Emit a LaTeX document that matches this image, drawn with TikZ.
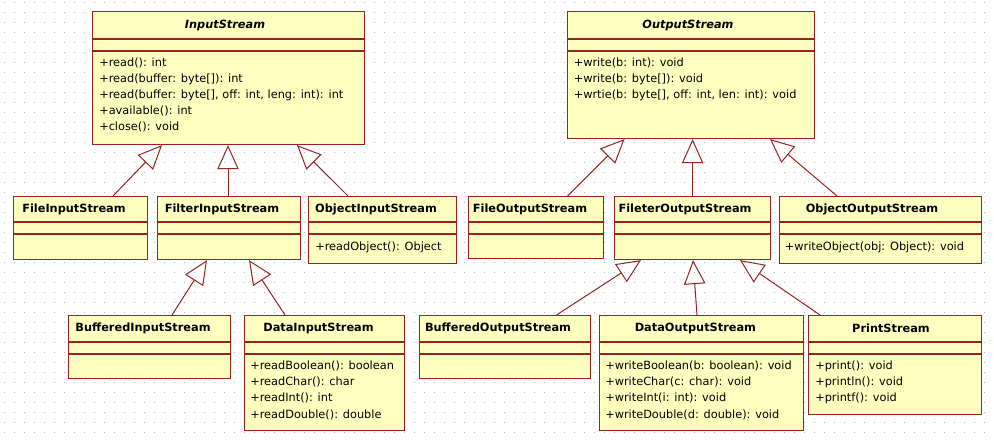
\documentclass[tikz,border=0pt]{standalone}
\usepackage{fontspec}
\setmainfont{DejaVu Sans}
\usetikzlibrary{arrows.meta,calc}
\definecolor{umlred}{HTML}{992222}
\definecolor{umlfill}{HTML}{FFFFC0}
\definecolor{dotgray}{HTML}{B4B4B4}
\tikzset{
  classbox/.style={draw=umlred, fill=umlfill, line width=0.85pt, inner sep=0pt, anchor=north west},
  sepline/.style={draw=umlred, line width=0.8pt},
  clsname/.style={font=\fontsize{8.5pt}{10pt}\selectfont\bfseries, inner sep=0pt, text=black},
  absname/.style={font=\fontsize{8.5pt}{10pt}\selectfont\bfseries\itshape, inner sep=0pt, text=black},
  methtext/.style={font=\fontsize{8.5pt}{10pt}\selectfont, inner sep=0pt, anchor=west, text height=6.5pt, text depth=2pt},
  inherit/.style={draw=umlred, line width=0.75pt, -{Triangle[open, length=18pt, width=16pt]}},
  dotrow/.style={draw=dotgray, line width=0.75pt, dash pattern=on 0.75pt off 6.75pt},
}
% #1 name, #2 x1, #3 y1, #4 x2, #5 y2, #6 first separator y, #7 title centre x, #8 title style, #9 title
\newcommand\umlcls[9]{%
  \node[classbox, minimum width={(#4-#2)*0.75pt}, minimum height={(#5-#3)*0.75pt}] (#1) at (#2,#3) {};
  \draw[sepline] (#2,#6) -- (#4,#6) (#2,{#6+12}) -- (#4,{#6+12});
  \node[#8] (#1-name) at (#7,{(#3+#6)/2}) {#9};
}
% #1 name, #2 x, #3 first line centre y, #4 lines
\newcommand\umlmeth[4]{%
  \foreach \mtext [count=\mi] in {#4} {
    \node[methtext] (#1-m\mi) at (#2,{#3+(\mi-1)*16.1}) {\mtext};
  }
}
\begin{document}
\begin{tikzpicture}[x=0.75pt, y=-0.75pt]
\useasboundingbox (0,0) rectangle (994,439);
\fill[white] (0,0) rectangle (994,439);
\foreach \yy in {2,12,...,432} \draw[dotrow] (3.5,\yy) -- (994,\yy);

% top row
\umlcls{in}{92}{11}{364}{144}{39}{225}{absname}{InputStream}
\umlmeth{in}{99}{63.3}{{+read(): int},{+read(buffer: byte[]): int},{+read(buffer: byte[], off: int, leng: int): int},{+available(): int},{+close(): void}}
\umlcls{out}{567}{11}{814}{138}{39}{688}{absname}{OutputStream}
\umlmeth{out}{573.5}{63.3}{{+write(b: int): void},{+write(b: byte[]): void},{+wrtie(b: byte[], off: int, len: int): void}}

% middle row
\umlcls{fin}{13}{196}{147}{259}{222}{74}{clsname}{FileInputStream}
\umlcls{filin}{157}{196}{300}{259}{222}{222}{clsname}{FilterInputStream}
\umlcls{oin}{308}{196}{456}{263}{222}{376}{clsname}{ObjectInputStream}
\umlmeth{oin}{315}{247}{{+readObject(): Object}}
\umlcls{fout}{468}{196}{603}{258}{222}{530}{clsname}{FileOutputStream}
\umlcls{filout}{614}{196}{770}{259}{222}{685}{clsname}{FileterOutputStream}
\umlcls{oout}{779}{196}{981}{263}{222}{872}{clsname}{ObjectOutputStream}
\umlmeth{oout}{784.6}{247.3}{{+writeObject(obj: Object): void}}

% bottom row
\umlcls{bin}{68}{315}{230}{378}{342}{143}{clsname}{BufferedInputStream}
\umlcls{din}{244}{315}{404}{430}{342}{318.5}{clsname}{DataInputStream}
\umlmeth{din}{250}{366.7}{{+readBoolean(): boolean},{+readChar(): char},{+readInt(): int},{+readDouble(): double}}
\umlcls{bout}{419}{315}{590}{378}{342}{498}{clsname}{BufferedOutputStream}
\umlcls{dout}{598.5}{315}{803}{430}{342}{695.4}{clsname}{DataOutputStream}
\umlmeth{dout}{605}{366.7}{{+writeBoolean(b: boolean): void},{+writeChar(c: char): void},{+writeInt(i: int): void},{+writeDouble(d: double): void}}
\umlcls{ps}{808}{315}{981}{414}{342}{891}{clsname}{PrintStream}
\umlmeth{ps}{815}{366.7}{{+print(): void},{+println(): void},{+printf(): void}}

% generalisations
\draw[inherit] ($(fin.north west)+(100,0)$) -- ($(in.south west)+(70,0)$);
\draw[inherit] ($(filin.north west)+(71,0)$) -- ($(in.south west)+(136,0)$);
\draw[inherit] ($(oin.north west)+(40,0)$) -- ($(in.south west)+(205,0)$);
\draw[inherit] ($(fout.north west)+(99.6,0)$) -- ($(out.south west)+(57.5,0)$);
\draw[inherit] ($(filout.north west)+(78.6,0)$) -- ($(out.south west)+(125.6,0)$);
\draw[inherit] ($(oout.north west)+(58,0)$) -- ($(out.south west)+(203,0)$);
\draw[inherit] ($(bin.north west)+(104,0)$) -- ($(filin.south west)+(50,0)$);
\draw[inherit] ($(din.north west)+(41,0)$) -- ($(filin.south west)+(92,0)$);
\draw[inherit] ($(bout.north west)+(137.5,0)$) -- ($(filout.south west)+(27,0)$);
\draw[inherit] ($(dout.north west)+(98.5,0)$) -- ($(filout.south west)+(79,0)$);
\draw[inherit] ($(ps.north west)+(12,0)$) -- ($(filout.south west)+(126,0)$);
\end{tikzpicture}
\end{document}
